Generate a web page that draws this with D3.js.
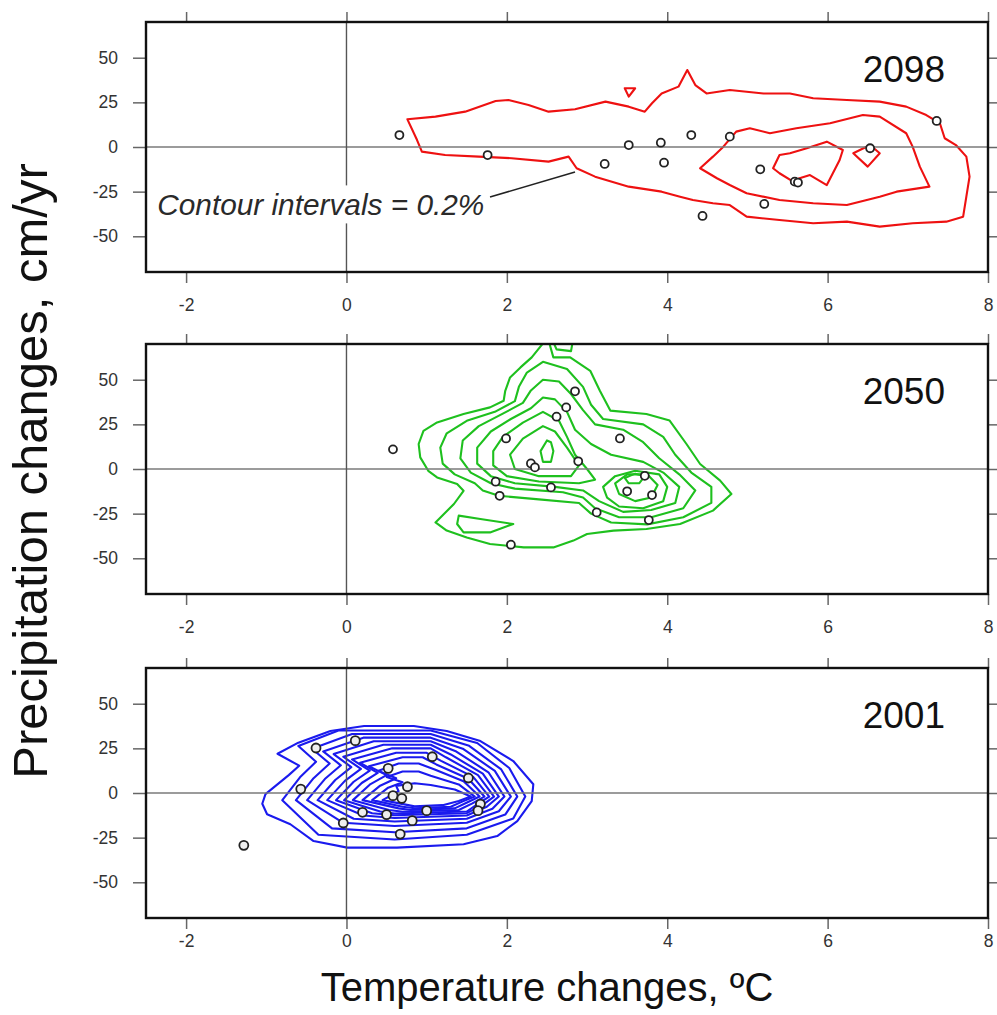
<!DOCTYPE html>
<html>
<head>
<meta charset="utf-8">
<script src="https://cdn.jsdelivr.net/npm/d3@7"></script>
<style>
body { margin: 0; background: #fff; }
text { font-family: "Liberation Sans", Arial, Helvetica, sans-serif; }
</style>
</head>
<body>
<div id="viz"></div>
<script>
// tick values
var xTicks = [-2, 0, 2, 4, 6, 8];
var yTicks = [-50, -25, 0, 25, 50];
var years = ["2098", "2050", "2001"];

// model points: [temperature change, precipitation change]
var pts2098 = [[0.66,6.7],[1.76,-4.5],[3.22,-9.5],[3.52,1.1],[3.92,2.4],[3.96,-8.8],[4.30,6.7],[4.78,5.8],
  [5.16,-12.5],[5.21,-31.9],[4.44,-38.6],[5.59,-19.4],[5.63,-19.9],[6.53,-0.7],[7.36,14.6]];
var pts2050 = [[2.85,43.5],[2.74,34.5],[2.62,29.3],[1.99,17.1],[3.41,17.1],[2.30,3.1],[2.35,0.9],[2.89,4.3],
  [1.86,-7.1],[1.91,-15.0],[2.55,-10.3],[3.72,-3.8],[3.50,-12.5],[3.81,-14.6],[3.12,-24.3],[3.77,-28.6],
  [2.05,-42.4],[0.58,11.0]];
var pts2001 = [[-0.38,25.2],[0.11,29.3],[1.07,20.3],[0.52,13.8],[1.52,8.4],[-0.57,2.2],[0.76,3.5],[0.58,-1.5],
  [0.69,-3.0],[1.67,-6.2],[1.64,-9.9],[0.20,-10.8],[0.50,-12.1],[1.00,-9.9],[0.82,-15.5],[-0.04,-16.8],
  [0.67,-23.0],[-1.28,-29.3]];

// density contours, one closed ring per array
var rings2098 = [
  [[0.76,15.5],[1.11,17.0],[1.48,19.8],[1.86,25.8],[2.02,26.3],[2.27,23.5],[2.52,19.8],[2.85,21.1],[3.23,25.4],
   [3.52,22.6],[3.72,19.8],[3.81,24.5],[3.93,30.0],[4.14,33.8],[4.25,43.1],[4.35,34.7],[4.49,30.0],[4.78,31.9],
   [5.20,30.0],[5.53,30.0],[5.82,27.3],[6.24,26.3],[6.65,25.4],[6.98,22.6],[7.23,17.9],[7.40,13.3],[7.46,4.9],
   [7.60,1.1],[7.73,-5.4],[7.77,-16.6],[7.73,-27.8],[7.69,-39.0],[7.48,-41.8],[7.06,-42.7],[6.65,-44.6],
   [6.24,-41.8],[5.82,-42.7],[5.40,-40.9],[4.99,-39.0],[4.78,-32.5],[4.57,-31.5],[4.32,-29.7],[4.16,-27.8],
   [3.93,-25.0],[3.52,-22.2],[3.10,-16.6],[2.87,-11.9],[2.77,-5.4],[2.52,-8.2],[2.06,-6.3],[1.65,-5.4],
   [1.23,-4.5],[0.94,-2.6],[0.88,3.9]],
  [[3.47,32.9],[3.60,32.9],[3.52,28.2]],
  [[4.41,-11.9],[4.57,-5.4],[4.70,0.2],[4.86,8.6],[5.03,10.5],[5.28,7.7],[5.61,10.5],[6.03,13.3],[6.44,17.9],
   [6.65,17.0],[6.98,7.7],[7.06,0.2],[7.15,-11.0],[7.27,-22.2],[6.86,-25.0],[6.65,-27.8],[6.24,-32.5],
   [5.82,-31.5],[5.40,-29.7],[4.99,-25.9],[4.78,-21.3],[4.62,-17.5]],
  [[5.32,-11.9],[5.40,-4.5],[5.53,-3.5],[5.74,-0.7],[5.99,3.0],[6.19,-1.7],[6.15,-7.3],[5.99,-21.3],
   [5.78,-15.7],[5.65,-17.5],[5.57,-19.4],[5.40,-14.7]],
  [[6.32,-3.5],[6.53,1.1],[6.65,-3.5],[6.50,-11.0]]
];

var rings2050 = [
  [[2.48,72],[2.31,62.5],[2.17,56.9],[2.04,51.3],[1.98,43.8],[1.96,38.2],[1.79,34.5],[1.46,30.8],[1.13,26.1],
   [0.96,21.4],[0.90,14.0],[0.92,6.5],[1.02,-1.0],[1.13,-4.7],[1.38,-8.4],[1.46,-12.2],[1.34,-19.6],
   [1.11,-29.9],[1.25,-34.5],[1.50,-38.3],[1.79,-42.0],[2.21,-43.9],[2.58,-43.9],[2.83,-40.1],[3.00,-36.4],
   [3.33,-34.5],[3.74,-33.6],[4.16,-30.8],[4.57,-23.3],[4.80,-14.0],[4.66,-6.5],[4.41,2.8],[4.24,14.0],
   [4.03,27.1],[3.74,30.8],[3.29,32.7],[3.16,43.8],[3.04,55.0],[2.79,62.5],[2.58,62.5],[2.52,72]],
  [[2.58,71],[2.82,71],[2.80,66],[2.62,67]],
  [[1.40,-26.1],[1.67,-28.0],[2.08,-30.8],[1.79,-35.5],[1.46,-35.5],[1.38,-30.8]],
  [[2.45,60],[2.25,54],[2.15,46],[2.10,38],[1.85,32],[1.50,27],[1.25,20],[1.17,12],[1.20,3],[1.35,-3],
   [1.60,-8],[1.70,-12],[1.90,-15],[2.40,-17],[2.90,-19],[3.05,-25],[3.30,-30],[3.75,-31],[4.20,-27],
   [4.55,-19],[4.55,-10],[4.30,-2],[4.10,8],[3.95,18],[3.70,25],[3.20,28],[3.05,36],[2.95,46],[2.75,56]],
  [[2.45,50],[2.30,44],[2.20,37],[1.95,31],[1.65,24],[1.45,16],[1.42,6],[1.55,-2],[1.80,-8],[2.10,-11],
   [2.70,-13],[2.95,-16],[3.10,-22],[3.40,-27],[3.80,-27],[4.20,-22],[4.35,-12],[4.15,-3],[3.90,6],
   [3.70,15],[3.45,22],[3.10,25],[2.95,33],[2.80,42],[2.65,49]],
  [[2.45,40],[2.30,34],[2.05,28],[1.80,21],[1.63,12],[1.63,3],[1.80,-4],[2.10,-8],[2.60,-10],[2.95,-12],
   [3.15,-18],[3.45,-24],[3.80,-23],[4.10,-19],[4.15,-10],[3.95,-2],[3.70,4],[3.30,8],[3.05,14],[2.85,22],
   [2.75,32],[2.60,39]],
  [[2.45,32],[2.20,26],[1.95,18],[1.83,10],[1.83,2],[2.00,-4],[2.40,-7],[2.90,-8],[3.10,-6],[3.00,0],
   [2.85,8],[2.75,18],[2.65,27]],
  [[3.20,-10],[3.35,-4],[3.60,-1],[3.90,-3],[4.00,-10],[3.95,-18],[3.70,-22],[3.40,-21],[3.25,-16]],
  [[2.45,24],[2.20,17],[2.04,8],[2.10,0],[2.40,-4],[2.80,-4],[2.90,2],[2.75,12],[2.60,21]],
  [[3.35,-8],[3.50,-3],[3.75,-3],[3.88,-9],[3.80,-16],[3.60,-18],[3.40,-14]],
  [[2.50,16],[2.42,10],[2.45,4],[2.55,4],[2.58,10],[2.55,15]],
  [[3.47,-5],[3.60,-2.6],[3.72,-4],[3.65,-8],[3.52,-8]]
];

var rings2001 = [
  [[-0.86,22],[-0.60,28.2],[-0.20,34.7],[0.22,37.5],[0.84,37.5],[1.25,34.7],[1.67,29.1],[2.08,17.9],[2.33,4.9],
   [2.31,-4.5],[2.13,-15.7],[1.88,-24.1],[1.46,-28.7],[0.63,-30.6],[0.01,-30.6],[-0.41,-26.9],[-0.70,-17.5],
   [-0.99,-11.9],[-1.05,-6],[-1.01,-0.6],[-0.72,10],[-0.59,15.3]],
  [[-0.60,26.3],[-0.10,35],[1.05,35],[1.63,28],[2.03,14],[2.23,-2],[2.08,-14.3],[1.50,-23.4],[0.60,-26],
   [-0.35,-23.4],[-0.80,-4],[-0.58,8.8],[-0.38,17.5]],
  [[-0.43,24.8],[0.07,33],[1.05,33],[1.53,26.4],[1.93,13.2],[2.13,-2],[1.98,-12.1],[1.50,-19.8],[0.60,-22],
   [-0.18,-19.8],[-0.63,-4],[-0.41,8.3],[-0.21,16.5]],
  [[-0.29,23.3],[0.21,31],[1.05,31],[1.45,24.8],[1.85,12.4],[2.05,-2],[1.90,-10.2],[1.50,-16.7],[0.60,-18.5],
   [-0.04,-16.7],[-0.49,-4],[-0.27,7.8],[-0.07,15.5]],
  [[-0.16,21.8],[0.34,29],[1.05,29],[1.37,23.2],[1.77,11.6],[1.97,-2],[1.82,-8.8],[1.50,-14.4],[0.60,-16],
   [0.09,-14.4],[-0.36,-4],[-0.14,7.3],[0.06,14.5]],
  [[-0.04,20.3],[0.46,27],[1.05,27],[1.30,21.6],[1.70,10.8],[1.90,-2],[1.75,-7.7],[1.50,-12.6],[0.60,-14],
   [0.21,-12.6],[-0.24,-4],[-0.02,6.8],[0.18,13.5]],
  [[0.07,18.8],[0.57,25],[1.05,25],[1.24,20],[1.64,10],[1.84,-2],[1.69,-6.9],[1.50,-11.3],[0.60,-12.5],
   [0.32,-11.3],[-0.13,-4],[0.09,6.3],[0.29,12.5]],
  [[0.17,16.9],[0.62,22.5],[1.00,22.5],[1.18,18],[1.58,9],[1.78,-2],[1.63,-6.3],[1.50,-10.4],[0.60,-11.5],
   [0.42,-10.4],[-0.03,-4],[0.19,5.6],[0.39,11.3]],
  [[0.28,15],[0.70,20],[0.95,20],[1.12,16],[1.52,8],[1.72,-2],[1.57,-5.8],[1.40,-9.5],[0.70,-10.5],
   [0.53,-9.5],[0.08,-4],[0.30,5],[0.50,10]],
  [[0.40,12.4],[0.65,16.5],[0.90,16.5],[1.10,13.2],[1.46,6.6],[1.66,-2],[1.51,-5.2],[1.35,-8.6],[0.80,-9.5],
   [0.65,-8.6],[0.20,-4],[0.42,4.1],[0.62,8.3]],
  [[0.50,9],[0.70,12],[0.90,12],[1.05,9.6],[1.40,4.8],[1.60,-2],[1.45,-4.7],[1.30,-7.7],[0.85,-8.5],
   [0.70,-7.7],[0.32,-4],[0.52,3],[0.70,6]],
  [[0.62,4],[0.85,5.5],[1.05,4.5],[1.35,2],[1.55,-2],[1.40,-4.5],[1.20,-6.8],[0.85,-7.5],[0.45,-4],[0.65,1]]
];

// leader line of the note in the top panel
var noteLine = [[1.79,-28],[2.85,-14]];

var width = 997, height = 1015;
var panelTop = [22, 344, 668], panelH = 250;
var colors = ["#ee1111", "#1ec01e", "#1a1aee"];

var panels = [
  { year: years[0], pts: pts2098, rings: rings2098 },
  { year: years[1], pts: pts2050, rings: rings2050 },
  { year: years[2], pts: pts2001, rings: rings2001 }
];

var svg = d3.select("#viz").append("svg")
  .attr("width", width)
  .attr("height", height);

var x = d3.scaleLinear().domain([-2.5, 8]).range([146, 988]);

panels.forEach(function(p, i) {
  var top = panelTop[i];
  var y = d3.scaleLinear().domain([-70, 70]).range([top + panelH, top]);
  var g = svg.append("g");

  g.append("clipPath").attr("id", "clip" + i)
    .append("rect")
    .attr("x", x.range()[0]).attr("y", top)
    .attr("width", x.range()[1] - x.range()[0]).attr("height", panelH);

  var plot = g.append("g").attr("clip-path", "url(#clip" + i + ")");

  var ring = d3.line()
    .x(function(d) { return x(d[0]); })
    .y(function(d) { return y(d[1]); })
    .curve(d3.curveLinearClosed);

  plot.selectAll(".contour")
    .data(p.rings)
    .enter().append("path")
    .attr("class", "contour")
    .attr("d", ring)
    .attr("fill", "none")
    .attr("stroke", colors[i])
    .attr("stroke-width", 2.1)
    .attr("stroke-linejoin", "round");

  // zero lines
  plot.append("line")
    .attr("x1", x.range()[0]).attr("x2", x.range()[1])
    .attr("y1", y(0)).attr("y2", y(0))
    .attr("stroke", "#7a7a7a").attr("stroke-width", 1.6);
  plot.append("line")
    .attr("x1", x(0)).attr("x2", x(0))
    .attr("y1", top).attr("y2", top + panelH)
    .attr("stroke", "#555").attr("stroke-width", 1.4);

  // note in the top panel
  if (i === 0) {
    plot.append("rect")
      .attr("x", x(-2.44)).attr("y", y(-21.5))
      .attr("width", 338).attr("height", 38)
      .attr("fill", "#fff");
    plot.append("text")
      .attr("x", x(-2.36)).attr("y", y(-38))
      .attr("font-size", 29.8)
      .attr("font-style", "italic")
      .attr("fill", "#2a2a2a")
      .text("Contour intervals = 0.2%");
    plot.append("line")
      .attr("x1", x(noteLine[0][0])).attr("y1", y(noteLine[0][1]))
      .attr("x2", x(noteLine[1][0])).attr("y2", y(noteLine[1][1]))
      .attr("stroke", "#222").attr("stroke-width", 1.6);
  }

  // model points
  plot.selectAll(".pt")
    .data(p.pts)
    .enter().append("circle")
    .attr("class", "pt")
    .attr("cx", function(d) { return x(d[0]); })
    .attr("cy", function(d) { return y(d[1]); })
    .attr("r", i === 2 ? 4.5 : 4)
    .attr("fill", i === 2 ? "#eeeeee" : "#fff")
    .attr("stroke", "#222")
    .attr("stroke-width", 1.8);

  // year label
  g.append("text")
    .attr("x", 945).attr("y", top + 60)
    .attr("text-anchor", "end")
    .attr("font-size", 37)
    .attr("fill", "#111")
    .text(p.year);

  // axes on all four sides
  var axB = g.append("g").attr("transform", "translate(0," + (top + panelH) + ")")
    .call(d3.axisBottom(x).tickValues(xTicks).tickSize(11).tickPadding(i === 2 ? 6 : 16).tickFormat(String));
  var axT = g.append("g").attr("transform", "translate(0," + top + ")")
    .call(d3.axisTop(x).tickValues(xTicks).tickSize(10).tickFormat(""));
  var axL = g.append("g").attr("transform", "translate(" + x.range()[0] + ",0)")
    .call(d3.axisLeft(y).tickValues(yTicks).tickSize(13).tickPadding(15).tickFormat(String));
  var axR = g.append("g").attr("transform", "translate(" + x.range()[1] + ",0)")
    .call(d3.axisRight(y).tickValues(yTicks).tickSize(10).tickFormat(""));

  [axB, axT, axL, axR].forEach(function(ax) {
    ax.select(".domain").remove();
    ax.selectAll(".tick line").attr("stroke", "#666").attr("stroke-width", 1.5);
    ax.selectAll(".tick text")
      .attr("fill", "#333")
      .attr("font-size", 17.5)
      .attr("font-family", "Liberation Sans, Arial, sans-serif");
  });

  // frame
  g.append("rect")
    .attr("x", x.range()[0]).attr("y", top)
    .attr("width", x.range()[1] - x.range()[0]).attr("height", panelH)
    .attr("fill", "none")
    .attr("stroke", "#111")
    .attr("stroke-width", 2.4);
});

// axis titles
svg.append("text")
  .attr("transform", "translate(47,471) rotate(-90)")
  .attr("text-anchor", "middle")
  .attr("font-size", 49)
  .attr("fill", "#111")
  .text("Precipitation changes, cm/yr");

svg.append("text")
  .attr("x", 547).attr("y", 1001)
  .attr("text-anchor", "middle")
  .attr("font-size", 40)
  .attr("fill", "#111")
  .text("Temperature changes, \u00baC");
</script>
</body>
</html>
